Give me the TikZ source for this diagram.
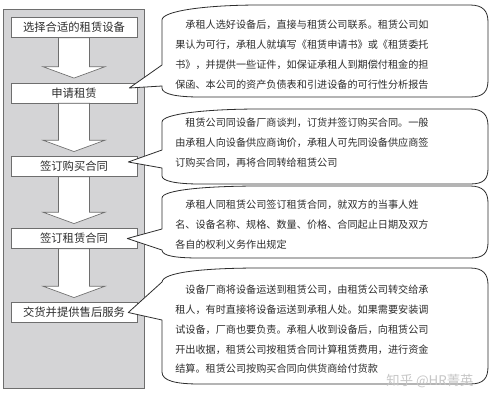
\documentclass[tikz,border=0pt]{standalone}
\usepackage{fontspec}
\newfontfamily\cjk{Noto Sans CJK SC}
\usetikzlibrary{calc}
\definecolor{panelgray}{RGB}{212,212,214}
\definecolor{linegray}{RGB}{110,110,110}
\definecolor{inkgray}{RGB}{45,45,45}
\begin{document}
\begin{tikzpicture}[x=0.75pt,y=-0.75pt,
    stepbox/.style={draw=linegray,fill=white,minimum width=94.5pt,minimum height=15pt,inner sep=0pt,
      font=\cjk\fontsize{8.5}{10}\selectfont,text=inkgray},
    blockarrow/.style={draw=linegray,fill=white,line width=0.5pt},
    bubble/.style={draw=inkgray,fill=white,line width=0.6pt,line join=round},
    bubbletext/.style={anchor=north west,align=left,inner sep=0pt,
      font=\cjk\fontsize{7.6}{14.8}\selectfont,text=inkgray}]
    \useasboundingbox (0,0) rectangle (492,400);
    \fill[white] (0,0) rectangle (492,400);
    \draw[fill=panelgray,draw=linegray] (3,9) rectangle (144,388);

    % steps
    \node[stepbox] (choose) at (74,27.5) {选择合适的租赁设备};
    \node[stepbox] (apply) at (74,93) {申请租赁};
    \node[stepbox] (buy) at (74,166.5) {签订购买合同};
    \node[stepbox] (lease) at (74,238.5) {签订租赁合同};
    \node[stepbox] (deliver) at (74,312.5) {交货并提供售后服务};

    \foreach \a/\b in {choose/apply,apply/buy,buy/lease,lease/deliver}
      \draw[blockarrow] let \p1=(\a.south), \p2=(\b.north) in
        (\x1-11.6pt,\y1) -- (\x1-11.6pt,\y2+12pt) -- (\x1-23.2pt,\y2+12pt) -- (\x1,\y2+3.5pt)
        -- (\x1+23.2pt,\y2+12pt) -- (\x1+11.6pt,\y2+12pt) -- (\x1+11.6pt,\y1) -- cycle;

    % callouts
    \coordinate (tipA) at ($(apply.east)+(-8,-5)$);
    \coordinate (tipB) at ($(buy.east)+(-9,-4.5)$);
    \coordinate (tipC) at ($(lease.east)+(-10,0)$);
    \coordinate (tipD) at ($(deliver.east)+(-9,0)$);

    \draw[bubble] (162,65) -- (162,20) .. controls (162,11) and (205,5) .. (260,5) -- (470,5)
      .. controls (483,5) and (488,11) .. (488,22) -- (488,80) .. controls (488,91) and (484,97) .. (470,97)
      -- (200,97) .. controls (176,97) and (162,94) .. (162,88) -- (162,86) -- (tipA) -- cycle;
    \draw[bubble] (162,150) -- (162,122) .. controls (162,114) and (205,109) .. (260,109) -- (470,109)
      .. controls (483,109) and (488,115) .. (488,126) -- (488,168) .. controls (488,179) and (484,184) .. (470,184)
      -- (200,184) .. controls (176,184) and (162,181) .. (162,176) -- (162,168) -- (tipB) -- cycle;
    \draw[bubble] (162,229) -- (162,198) .. controls (162,190) and (205,186) .. (260,186) -- (470,186)
      .. controls (483,186) and (488,192) .. (488,203) -- (488,242) .. controls (488,253) and (484,258) .. (470,258)
      -- (200,258) .. controls (176,258) and (162,256) .. (162,250) -- (tipC) -- cycle;
    \draw[bubble] (162,282) .. controls (163,272) and (205,268) .. (260,268) -- (470,268)
      .. controls (483,268) and (488,274) .. (488,285) -- (488,366) .. controls (488,378) and (484,384) .. (470,384)
      -- (200,384) .. controls (176,384) and (162,381) .. (162,372) -- (162,320) -- (tipD) -- cycle;

    \node[bubbletext] (applytext) at (175,20) {\hspace*{1em}承租人选好设备后，直接与租赁公司联系。租赁公司如\\
      果认为可行，承租人就填写《租赁申请书》或《租赁委托\\
      书》，并提供一些证件，如保证承租人到期偿付租金的担\\
      保函、本公司的资产负债表和引进设备的可行性分析报告};
    \node[bubbletext] (buytext) at (175,118) {\hspace*{1em}租赁公司同设备厂商谈判，订货并签订购买合同。一般\\
      由承租人向设备供应商询价，承租人可先同设备供应商签\\
      订购买合同，再将合同转给租赁公司};
    \node[bubbletext] (leasetext) at (175,200) {\hspace*{1em}承租人同租赁公司签订租赁合同，就双方的当事人姓\\
      名、设备名称、规格、数量、价格、合同起止日期及双方\\
      各自的权利义务作出规定};
    \node[bubbletext] (delivertext) at (175,285) {\hspace*{1em}设备厂商将设备运送到租赁公司，由租赁公司转交给承\\
      租人，有时直接将设备运送到承租人处。如果需要安装调\\
      试设备，厂商也要负责。承租人收到设备后，向租赁公司\\
      开出收据，租赁公司按租赁合同计算租赁费用，进行资金\\
      结算。租赁公司按购买合同向供货商给付货款};

    \node[text=gray!45,font=\cjk\fontsize{10}{10}\selectfont] (mark) at (430,381) {知乎 @HR菁英};
\end{tikzpicture}
\end{document}
